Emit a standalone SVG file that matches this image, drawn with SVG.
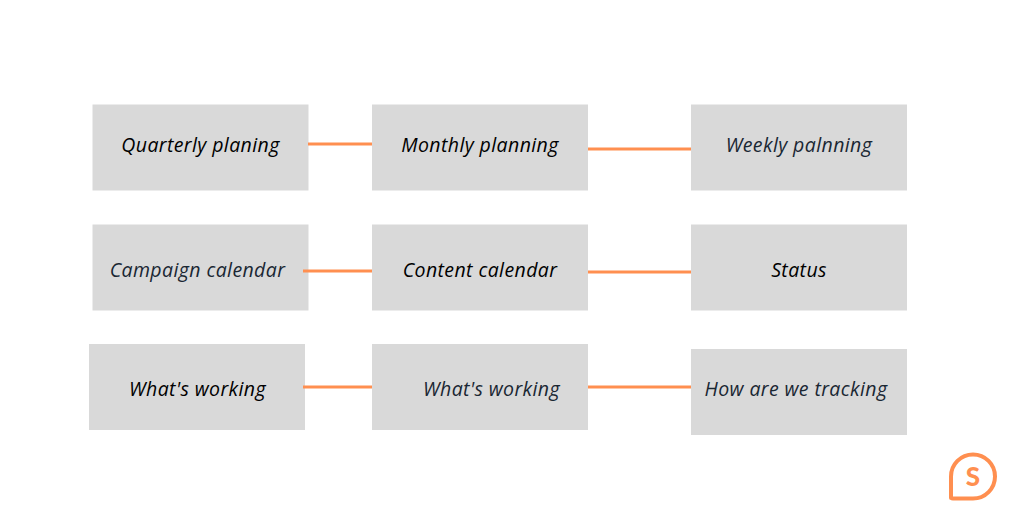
<svg xmlns="http://www.w3.org/2000/svg" width="1024" height="512" viewBox="0 0 1024 512">
<style>
.n{fill:#d9d9d9}
.t{font-family:"Open Sans","Lato",sans-serif;font-style:italic;font-size:19.500px;letter-spacing:0.400px;text-anchor:middle;fill:#000}
.d{fill:#1a2733}
.c{stroke:#ff8f50;stroke-width:3;fill:none}
</style>
<rect width="1024" height="512" fill="#fff"/>
<g id="n1"><rect class="n" x="92.500" y="104.500" width="216" height="86"/><text class="t" x="200.500" y="152">Quarterly planing</text></g>
<g id="n2"><rect class="n" x="372" y="104.500" width="216" height="86"/><text class="t" x="480" y="152">Monthly planning</text></g>
<g id="n3"><rect class="n" x="691" y="104.500" width="216" height="86"/><text class="t d" x="799" y="152">Weekly palnning</text></g>
<g id="n4"><rect class="n" x="92.500" y="224.500" width="216" height="86"/><text class="t d" x="197.500" y="277">Campaign calendar</text></g>
<g id="n5"><rect class="n" x="372" y="224.500" width="216" height="86"/><text class="t" x="480" y="277">Content calendar</text></g>
<g id="n6"><rect class="n" x="691" y="224.500" width="216" height="86"/><text class="t" x="799" y="277">Status</text></g>
<g id="n7"><rect class="n" x="89" y="344" width="216" height="86"/><text class="t" x="197.500" y="396">What's working</text></g>
<g id="n8"><rect class="n" x="372" y="344" width="216" height="86"/><text class="t d" x="491.500" y="396">What's working</text></g>
<g id="n9"><rect class="n" x="691" y="349" width="216" height="86"/><text class="t d" x="796" y="396">How are we tracking</text></g>
<g id="connectors">
<line class="c" x1="308" y1="144" x2="372" y2="144"/>
<line class="c" x1="588" y1="149" x2="691" y2="149"/>
<line class="c" x1="303" y1="271" x2="372" y2="271"/>
<line class="c" x1="588" y1="272" x2="691" y2="272"/>
<line class="c" x1="303" y1="387" x2="372" y2="387"/>
<line class="c" x1="588" y1="387" x2="691" y2="387"/>
</g>
<g id="logo">
<path d="M951 498V476.500A22 22 0 1 1 973 498.500H953Q951 498.500 951 496.500Z" fill="none" stroke="#ff8f50" stroke-width="4" stroke-linejoin="round"/>
<text x="973" y="485.500" font-family="Lato,sans-serif" font-weight="900" font-size="26" text-anchor="middle" fill="#ff8f50">S</text>
</g>
</svg>
